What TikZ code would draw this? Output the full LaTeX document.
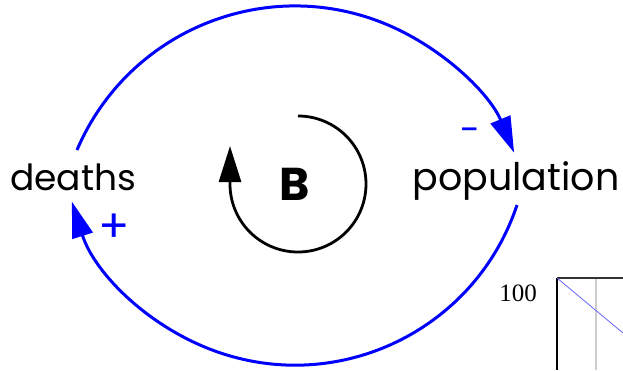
\documentclass[tikz,border=0pt]{standalone}
\usepackage{fontspec}
\setmainfont{Poppins}
\newfontfamily\numfont{Liberation Serif}
\usetikzlibrary{arrows.meta}

\begin{document}
\begin{tikzpicture}[x=1pt, y=1pt,
  var/.style={font=\fontsize{36}{42}\selectfont, inner sep=0pt},
  sign/.style={text=blue, inner sep=0pt},
  link/.style={-{Triangle[length=36pt, width=21pt]}, line width=3pt, draw=blue},
  loop/.style={-{Triangle[length=36pt, width=22pt]}, line width=2.8pt},
  axis/.style={line width=2pt}
]
  \useasboundingbox (0,0) rectangle (623,370);

  \node[var, anchor=base] (deaths) at (73,180) {deaths};
  \node[var, anchor=base, font=\fontsize{38}{44}\selectfont] (population) at (516,180) {population};
  \node[font=\bfseries\fontsize{46}{52}\selectfont, inner sep=0pt] (B) at (295,186) {B};

  \draw[link] ([shift={(4,40)}]deaths.base)
    arc[start angle=156.9, end angle=22.4, radius=237];
  \draw[link] ([shift={(1,-15)}]population.base)
    arc[start angle=-18.4, end angle=-162.5, radius=234];
  \node[sign, font=\fontsize{36}{40}\selectfont] (minus) at (470,235) {-};
  \node[sign, font=\fontsize{46}{50}\selectfont] (plus) at (114,142) {+};

  % balancing loop
  \draw[loop] ([shift={(3,68)}]B.center) arc[start angle=90, end angle=-180, radius=68]
    -- ++(0,38);

  % corner of the graph
  \draw[axis, black!20] (596,92) -- (596,0);
  \draw[axis, black!80] (557,92) -- (623,92);
  \draw[axis, black] (557,92) -- (557,0);
  \draw[blue!60, line width=0.8pt] (557,92) -- (623,37);
  \node[font=\numfont\fontsize{25}{30}\selectfont, inner sep=0pt] (ymax) at (518,77) {100};
\end{tikzpicture}
\end{document}
